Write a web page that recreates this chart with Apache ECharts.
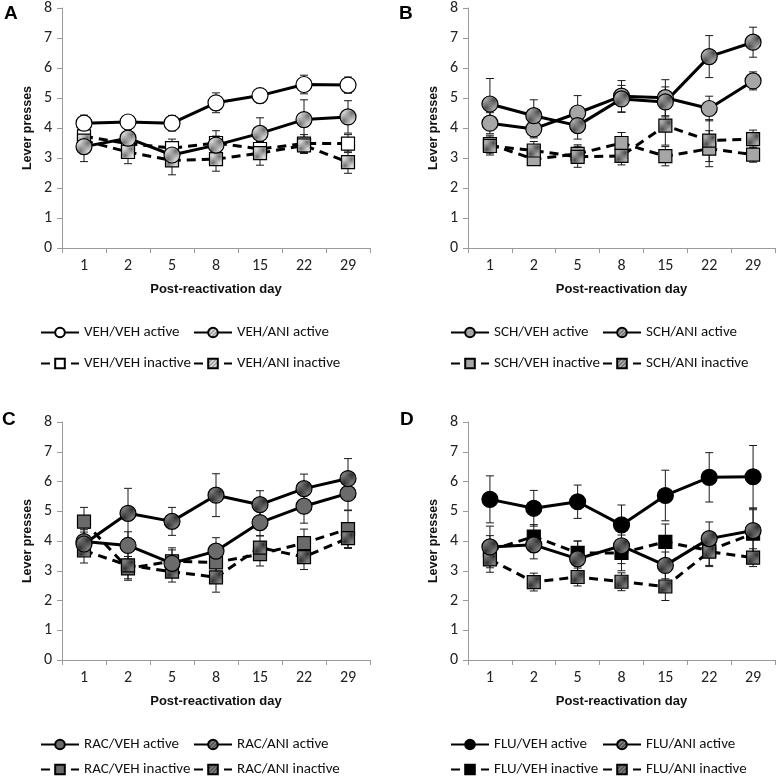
<!DOCTYPE html>
<html>
<head>
<meta charset="utf-8">
<script src="https://cdn.jsdelivr.net/npm/echarts@6/dist/echarts.min.js"></script>
<style>html,body{margin:0;padding:0;background:#fff}#c{width:777px;height:780px}</style>
</head>
<body>
<div id="c"></div>
<script>
// ---- data ----
const days = ['1', '2', '5', '8', '15', '22', '29'];

// Panel A
const vehVehActive   = [4.16, 4.20, 4.16, 4.84, 5.08, 5.45, 5.43];
const vehVehActiveE  = [0.27, 0.20, 0.26, 0.33, 0.24, 0.31, 0.27];
const vehAniActive   = [3.38, 3.66, 3.10, 3.43, 3.82, 4.28, 4.37];
const vehAniActiveE  = [0.50, 0.30, 0.35, 0.30, 0.52, 0.66, 0.54];
const vehVehInactive = [3.72, 3.48, 3.33, 3.50, 3.30, 3.48, 3.48];
const vehVehInactiveE= [0.30, 0.25, 0.30, 0.41, 0.25, 0.30, 0.30];
const vehAniInactive = [3.58, 3.20, 2.92, 2.96, 3.16, 3.42, 2.86];
const vehAniInactiveE= [0.35, 0.39, 0.48, 0.40, 0.40, 0.27, 0.37];

// Panel B
const schVehActive   = [4.16, 3.97, 4.50, 5.06, 5.01, 4.65, 5.57];
const schVehActiveE  = [0.35, 0.30, 0.58, 0.52, 0.60, 0.41, 0.30];
const schAniActive   = [4.80, 4.41, 4.08, 4.97, 4.87, 6.38, 6.86];
const schAniActiveE  = [0.85, 0.53, 0.45, 0.45, 0.50, 0.70, 0.50];
const schVehInactive = [3.46, 2.96, 3.14, 3.50, 3.06, 3.31, 3.11];
const schVehInactiveE= [0.30, 0.20, 0.30, 0.35, 0.32, 0.60, 0.25];
const schAniInactive = [3.40, 3.25, 3.04, 3.07, 4.08, 3.58, 3.63];
const schAniInactiveE= [0.30, 0.30, 0.35, 0.30, 0.65, 0.70, 0.30];

// Panel C
const racVehActive   = [3.98, 3.85, 3.25, 3.66, 4.62, 5.17, 5.60];
const racVehActiveE  = [0.40, 0.46, 0.45, 0.45, 0.45, 0.57, 0.56];
const racAniActive   = [3.90, 4.93, 4.66, 5.54, 5.22, 5.76, 6.10];
const racAniActiveE  = [0.40, 0.84, 0.47, 0.72, 0.47, 0.49, 0.67];
const racVehInactive = [4.65, 3.08, 3.32, 3.28, 3.56, 3.93, 4.40];
const racVehInactiveE= [0.48, 0.40, 0.45, 0.40, 0.40, 0.47, 0.62];
const racAniInactive = [3.68, 3.18, 2.97, 2.78, 3.78, 3.46, 4.10];
const racAniInactiveE= [0.42, 0.45, 0.35, 0.50, 0.40, 0.42, 0.35];

// Panel D
const fluVehActive   = [5.40, 5.10, 5.32, 4.54, 5.53, 6.14, 6.16];
const fluVehActiveE  = [0.79, 0.60, 0.56, 0.67, 0.85, 0.83, 1.05];
const fluAniActive   = [3.80, 3.87, 3.40, 3.84, 3.18, 4.08, 4.35];
const fluAniActiveE  = [0.70, 0.47, 0.60, 0.60, 0.45, 0.56, 0.75];
const fluVehInactive = [3.68, 4.15, 3.60, 3.60, 3.97, 3.68, 4.25];
const fluVehInactiveE= [0.50, 0.40, 0.40, 0.60, 0.60, 0.50, 0.80];
const fluAniInactive = [3.38, 2.62, 2.79, 2.63, 2.47, 3.64, 3.44];
const fluAniInactiveE= [0.43, 0.30, 0.30, 0.30, 0.47, 0.50, 0.30];

// ---- styles ----
function hatch(bg, fg) {
  const c = document.createElement('canvas');
  c.width = 4; c.height = 4;
  const g = c.getContext('2d');
  g.fillStyle = bg; g.fillRect(0, 0, 4, 4);
  g.strokeStyle = fg; g.lineWidth = 1;
  g.beginPath();
  g.moveTo(-1, 5); g.lineTo(5, -1);
  g.moveTo(-1, 1); g.lineTo(1, -1);
  g.moveTo(3, 5); g.lineTo(5, 3);
  g.stroke();
  return { image: c, repeat: 'repeat' };
}
const hatchA = hatch('#d6d6d6', '#6e6e6e');
const hatchB = hatch('#a8a8a8', '#4a4a4a');
const hatchC = hatch('#7c7c7c', '#2e2e2e');

const panels = [
  { grid: { left: 62, top: 8, width: 308, height: 240 }, letter: 'A', lx: 4, ly: 4,
    legendX: [40, 193], legendTop: 325, legendGap: 16,
    series: [
      { name: 'VEH/VEH active', data: vehVehActive, err: vehVehActiveE, fill: '#ffffff', sym: 'circle', dash: false },
      { name: 'VEH/ANI active', data: vehAniActive, err: vehAniActiveE, fill: hatchA, sym: 'circle', dash: false },
      { name: 'VEH/VEH inactive', data: vehVehInactive, err: vehVehInactiveE, fill: '#ffffff', sym: 'rect', dash: true },
      { name: 'VEH/ANI inactive', data: vehAniInactive, err: vehAniInactiveE, fill: hatchA, sym: 'rect', dash: true }
    ] },
  { grid: { left: 468, top: 8, width: 307, height: 240 }, letter: 'B', lx: 399, ly: 4,
    legendX: [450, 602], legendTop: 325, legendGap: 16,
    series: [
      { name: 'SCH/VEH active', data: schVehActive, err: schVehActiveE, fill: '#a6a6a6', sym: 'circle', dash: false },
      { name: 'SCH/ANI active', data: schAniActive, err: schAniActiveE, fill: hatchB, sym: 'circle', dash: false },
      { name: 'SCH/VEH inactive', data: schVehInactive, err: schVehInactiveE, fill: '#a6a6a6', sym: 'rect', dash: true },
      { name: 'SCH/ANI inactive', data: schAniInactive, err: schAniInactiveE, fill: hatchB, sym: 'rect', dash: true }
    ] },
  { grid: { left: 62, top: 422, width: 308, height: 238 }, letter: 'C', lx: 2, ly: 410,
    legendX: [40, 193], legendTop: 737, legendGap: 10,
    series: [
      { name: 'RAC/VEH active', data: racVehActive, err: racVehActiveE, fill: '#6b6b6b', sym: 'circle', dash: false },
      { name: 'RAC/ANI active', data: racAniActive, err: racAniActiveE, fill: hatchC, sym: 'circle', dash: false },
      { name: 'RAC/VEH inactive', data: racVehInactive, err: racVehInactiveE, fill: '#6b6b6b', sym: 'rect', dash: true },
      { name: 'RAC/ANI inactive', data: racAniInactive, err: racAniInactiveE, fill: hatchC, sym: 'rect', dash: true }
    ] },
  { grid: { left: 468, top: 422, width: 307, height: 238 }, letter: 'D', lx: 400, ly: 410,
    legendX: [450, 602], legendTop: 737, legendGap: 10,
    series: [
      { name: 'FLU/VEH active', data: fluVehActive, err: fluVehActiveE, fill: '#000000', sym: 'circle', dash: false },
      { name: 'FLU/ANI active', data: fluAniActive, err: fluAniActiveE, fill: hatchC, sym: 'circle', dash: false },
      { name: 'FLU/VEH inactive', data: fluVehInactive, err: fluVehInactiveE, fill: '#000000', sym: 'rect', dash: true },
      { name: 'FLU/ANI inactive', data: fluAniInactive, err: fluAniInactiveE, fill: hatchC, sym: 'rect', dash: true }
    ] }
];

const tickFont = "Carlito, 'Open Sans', 'Liberation Sans', sans-serif";
const boldFont = "'Liberation Sans', Arial, sans-serif";
const legendFont = "Carlito, 'Liberation Sans', sans-serif";

function errRender(params, api) {
  const x = api.value(0), y = api.value(1), e = api.value(2);
  const t = api.coord([x, y + e]);
  const b = api.coord([x, y - e]);
  const w = 4;
  const st = { stroke: '#1a1a1a', lineWidth: 1 };
  return { type: 'group', children: [
    { type: 'line', shape: { x1: t[0], y1: t[1], x2: b[0], y2: b[1] }, style: st },
    { type: 'line', shape: { x1: t[0] - w, y1: t[1], x2: t[0] + w, y2: t[1] }, style: st },
    { type: 'line', shape: { x1: b[0] - w, y1: b[1], x2: b[0] + w, y2: b[1] }, style: st }
  ] };
}

const option = { animation: false, backgroundColor: '#fff', grid: [], xAxis: [], yAxis: [], series: [], legend: [], graphic: [] };

panels.forEach((p, i) => {
  option.grid.push(p.grid);
  option.xAxis.push({
    type: 'category', gridIndex: i, data: days, boundaryGap: true,
    name: 'Post-reactivation day', nameLocation: 'middle', nameGap: 35,
    nameTextStyle: { fontFamily: boldFont, fontWeight: 'bold', fontSize: 13, color: '#111' },
    axisLine: { lineStyle: { color: '#9a9a9a', width: 1 } },
    axisTick: { show: true, inside: false, length: 5, alignWithLabel: false, lineStyle: { color: '#9a9a9a' } },
    axisLabel: { fontFamily: tickFont, fontSize: 16, color: '#222', margin: 10 },
    splitLine: { show: false }
  });
  option.yAxis.push({
    type: 'value', gridIndex: i, min: 0, max: 8, interval: 1,
    name: 'Lever presses', nameLocation: 'middle', nameGap: 28,
    nameTextStyle: { fontFamily: boldFont, fontWeight: 'bold', fontSize: 12.5, color: '#111' },
    axisLine: { show: true, lineStyle: { color: '#9a9a9a', width: 1 } },
    axisTick: { show: true, inside: false, length: 5, lineStyle: { color: '#9a9a9a' } },
    axisLabel: { fontFamily: tickFont, fontSize: 16, color: '#222', margin: 10 },
    splitLine: { show: false }
  });
  // error bars
  p.series.forEach(s => {
    option.series.push({
      type: 'custom', xAxisIndex: i, yAxisIndex: i, z: 1, silent: true,
      renderItem: errRender, encode: { x: 0, y: 1 },
      data: s.data.map((v, k) => [k, v, s.err[k]])
    });
  });
  p.series.forEach(s => {
    option.series.push({
      type: 'line', name: s.name, xAxisIndex: i, yAxisIndex: i, z: s.dash ? 2 : 3,
      data: s.data, symbol: s.sym, symbolSize: s.sym === 'circle' ? 16 : 13,
      lineStyle: { color: '#000', width: 3, type: s.dash ? [9, 6] : 'solid' },
      itemStyle: { color: s.fill, borderColor: '#000', borderWidth: 1.2, opacity: 1 }
    });
  });
  [[0, 2], [1, 3]].forEach((idx, col) => {
    option.legend.push({
      orient: 'vertical', left: p.legendX[col], top: p.legendTop, padding: 0,
      itemWidth: 38, itemHeight: 12, itemGap: p.legendGap, selectedMode: false,
      textStyle: { fontFamily: legendFont, fontSize: 15, color: '#111' },
      data: idx.map(k => p.series[k].name)
    });
  });
  option.graphic.push({
    type: 'text', left: p.lx, top: p.ly,
    style: { text: p.letter, fontFamily: boldFont, fontWeight: 'bold', fontSize: 19, fill: '#000' }
  });
});

const chart = echarts.init(document.getElementById('c'), null, { renderer: 'canvas' });
chart.setOption(option);
</script>
</body>
</html>
